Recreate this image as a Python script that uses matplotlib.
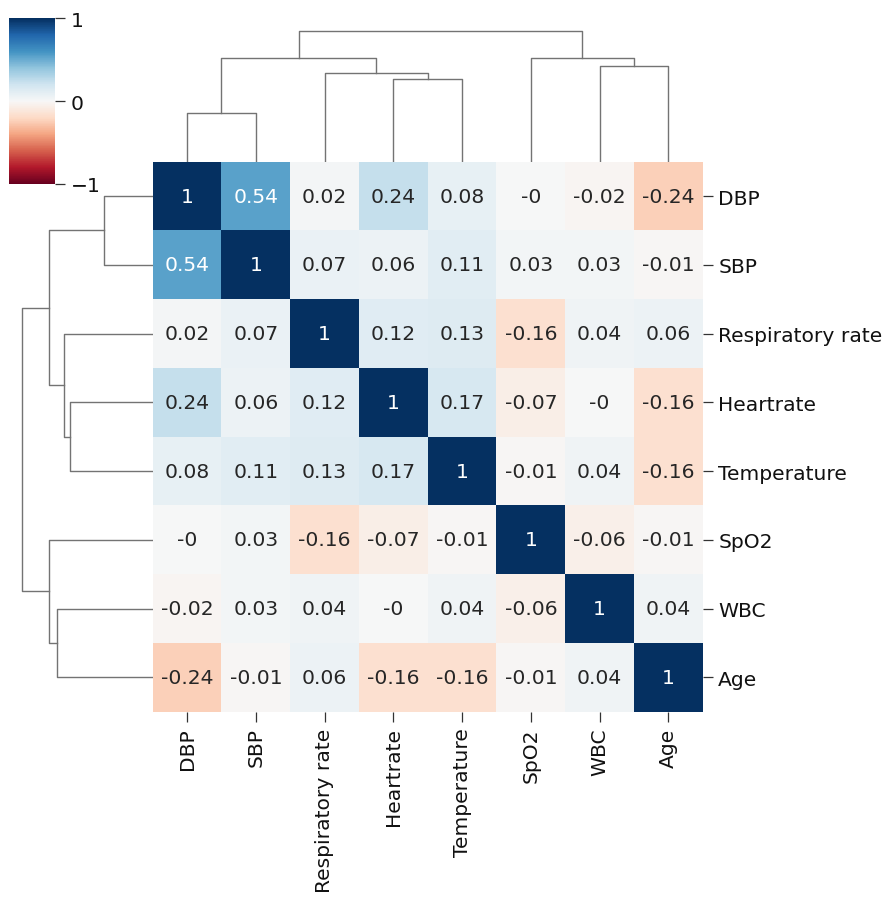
import numpy as np
import pandas as pd
import seaborn as sns
import matplotlib
matplotlib.use("Agg")
import matplotlib.pyplot as plt

# correlation matrix, already in clustered order
labels = ["DBP", "SBP", "Respiratory rate", "Heartrate", "Temperature", "SpO2", "WBC", "Age"]
corr_values = [
    [1.00, 0.54, 0.02, 0.24, 0.08, -0.0, -0.02, -0.24],
    [0.54, 1.00, 0.07, 0.06, 0.11, 0.03, 0.03, -0.01],
    [0.02, 0.07, 1.00, 0.12, 0.13, -0.16, 0.04, 0.06],
    [0.24, 0.06, 0.12, 1.00, 0.17, -0.07, -0.0, -0.16],
    [0.08, 0.11, 0.13, 0.17, 1.00, -0.01, 0.04, -0.16],
    [-0.0, 0.03, -0.16, -0.07, -0.01, 1.00, -0.06, -0.01],
    [-0.02, 0.03, 0.04, -0.0, 0.04, -0.06, 1.00, 0.04],
    [-0.24, -0.01, 0.06, -0.16, -0.16, -0.01, 0.04, 1.00],
]

# linkage: (child a, child b, height); new nodes numbered from 8
merge_a = [0, 3, 2, 6, 8, 5, 12]
merge_b = [1, 4, 9, 7, 10, 11, 13]
merge_h = [0.72, 1.22, 1.31, 1.41, 1.53, 1.53, 1.94]

df = pd.DataFrame(corr_values, index=labels, columns=labels)

plt.rcParams.update({
    "font.size": 14.6,
    "text.color": "#222222",
    "xtick.major.size": 7.2, "ytick.major.size": 7.2,
    "xtick.major.width": 0.9, "ytick.major.width": 0.9,
    "xtick.color": "#333333", "ytick.color": "#333333",
    "xtick.labelcolor": "#111111", "ytick.labelcolor": "#111111",
    "xtick.major.pad": 4, "ytick.major.pad": 4,
})

W, H = 892, 904
fig = plt.figure(figsize=(W / 100, H / 100), dpi=100)


def px_axes(x0, y0, x1, y1):
    # pixel box (top-left origin) -> figure axes
    return fig.add_axes([x0 / W, 1 - y1 / H, (x1 - x0) / W, (y1 - y0) / H])


hm_l, hm_r, hm_t, hm_b = 152.7, 702.7, 162.7, 712.7
dend_px = 131 * 1.05

ax = px_axes(hm_l, hm_t, hm_r, hm_b)
cax = px_axes(9.3, 19.3, 55, 185)
ax_top = px_axes(hm_l, hm_t - dend_px, hm_r, hm_t)
ax_left = px_axes(hm_l - dend_px, hm_t, hm_l, hm_b)

sns.heatmap(df, ax=ax, cmap="RdBu", vmin=-1, vmax=1, annot=True,
            cbar_ax=cax, annot_kws={"size": 14.6})
cax.set_yticks([-1, 0, 1])
ax.yaxis.set_ticks_position("right")
ax.yaxis.set_label_position("right")
ax.set_yticklabels(labels, rotation=0)
ax.set_xticklabels(labels, rotation=90)
ax.set_xlabel("")
ax.set_ylabel("")

# dendrogram coordinates
n = len(labels)
pos = {i: i + 0.5 for i in range(n)}
hgt = {i: 0.0 for i in range(n)}
for k, (a, b, h) in enumerate(zip(merge_a, merge_b, merge_h)):
    xa, xb = pos[a], pos[b]
    ha, hb = hgt[a], hgt[b]
    ax_top.plot([xa, xa, xb, xb], [ha, h, h, hb], color="0.45", lw=1.0)
    ax_left.plot([ha, h, h, hb], [xa, xa, xb, xb], color="0.45", lw=1.0)
    pos[n + k] = (xa + xb) / 2
    hgt[n + k] = h

top_h = max(merge_h) * 1.05
ax_top.set_xlim(0, n)
ax_top.set_ylim(0, top_h)
ax_left.set_ylim(n, 0)
ax_left.set_xlim(top_h, 0)
for a in (ax_top, ax_left):
    a.set_axis_off()

fig.savefig("out.png", dpi=100)
